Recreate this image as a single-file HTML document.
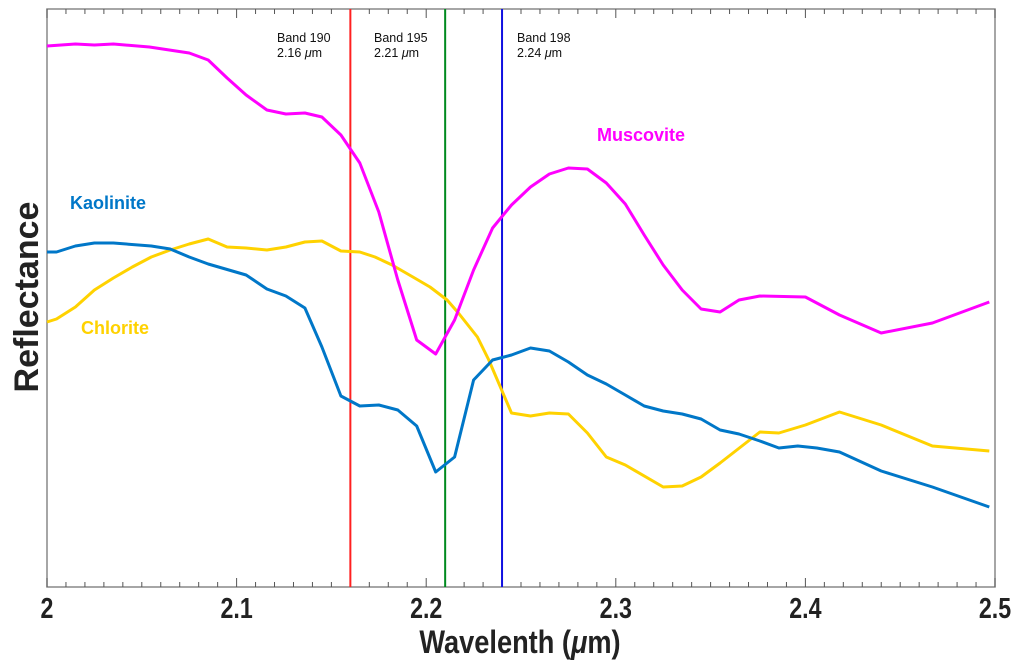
<!DOCTYPE html>
<html><head><meta charset="utf-8"><style>
html,body{margin:0;padding:0;background:#fff;}
svg{display:block;font-family:"Liberation Sans",sans-serif;}
</style></head><body>
<svg id="chart" width="1024" height="672" viewBox="0 0 1024 672" xmlns="http://www.w3.org/2000/svg"></svg>
<script>
const xTicks = [2.0, 2.1, 2.2, 2.3, 2.4, 2.5];
const xTickLabels = ["2", "2.1", "2.2", "2.3", "2.4", "2.5"];
const muscoviteWl = [2.000,2.015,2.025,2.035,2.054,2.075,2.085,2.095,2.105,2.116,2.126,2.136,2.145,2.155,2.165,2.175,2.185,2.195,2.205,2.215,2.225,2.235,2.245,2.255,2.265,2.275,2.285,2.295,2.305,2.315,2.325,2.335,2.345,2.355,2.365,2.376,2.400,2.418,2.440,2.467,2.497];
const muscoviteVal = [.541,.543,.542,.543,.540,.534,.527,.509,.492,.477,.473,.474,.470,.452,.424,.375,.307,.247,.233,.267,.317,.359,.382,.400,.413,.419,.418,.404,.383,.352,.322,.297,.278,.275,.287,.291,.290,.272,.254,.264,.285];
const kaoliniteWl = [2.000,2.005,2.015,2.025,2.035,2.055,2.065,2.075,2.085,2.105,2.116,2.126,2.136,2.145,2.155,2.165,2.175,2.185,2.195,2.205,2.215,2.225,2.235,2.245,2.255,2.265,2.275,2.285,2.295,2.305,2.315,2.325,2.335,2.345,2.355,2.365,2.376,2.386,2.396,2.406,2.418,2.440,2.467,2.497];
const kaoliniteVal = [.335,.335,.341,.344,.344,.341,.338,.330,.323,.312,.298,.291,.279,.240,.191,.181,.182,.177,.161,.115,.130,.207,.227,.232,.239,.236,.225,.212,.203,.192,.181,.176,.173,.168,.157,.153,.146,.139,.141,.139,.135,.116,.100,.080];
const chloriteWl = [2.000,2.005,2.015,2.025,2.035,2.045,2.055,2.065,2.075,2.085,2.095,2.105,2.116,2.126,2.136,2.145,2.155,2.165,2.173,2.182,2.193,2.202,2.211,2.217,2.227,2.233,2.245,2.255,2.265,2.275,2.285,2.295,2.305,2.325,2.335,2.345,2.355,2.376,2.386,2.400,2.418,2.440,2.467,2.497];
const chloriteVal = [.265,.268,.280,.297,.309,.320,.330,.337,.343,.348,.340,.339,.337,.340,.345,.346,.336,.335,.330,.322,.310,.300,.287,.274,.250,.227,.174,.171,.174,.173,.154,.130,.122,.100,.101,.110,.124,.155,.154,.162,.175,.162,.141,.136];
const bandWl = [2.16, 2.21, 2.24];
const bandNames = ["Band 190", "Band 195", "Band 198"];
const bandLabels = ["2.16", "2.21", "2.24"];
const bandColors = ["#ff2020", "#008a1e", "#1010e0"];

const L=47,R=995,T=9,B=587;
const YMAX=0.578;
const X = w => L + (w-2.0)/(0.5)*(R-L);
const Y = v => B - v/YMAX*(B-T);
const NS="http://www.w3.org/2000/svg";
const svg=document.getElementById('chart');
function mk(tag, attrs, parent){const e=document.createElementNS(NS,tag);for(const k in attrs)e.setAttribute(k,attrs[k]);(parent||svg).appendChild(e);return e;}

const frame=mk('rect',{x:L,y:T,width:R-L,height:B-T,fill:'none',stroke:'#888','stroke-width':1.5});



for(let i=0;i<=50;i++){
  const w=2+i*0.01, x=X(w), len=(i%10===0)?9:5;
  const t1=mk('line',{x1:x,x2:x,y1:B,y2:B-len,stroke:'#555','stroke-width':1});
  
  
  const t2=mk('line',{x1:x,x2:x,y1:T,y2:T+len,stroke:'#555','stroke-width':1});
  
  
}
xTicks.forEach((w,i)=>{
  const t=mk('text',{x:X(w),y:618,'text-anchor':'middle','font-size':29,'font-weight':'bold',fill:'#222',transform:`translate(${X(w)},0) scale(0.8,1) translate(${-X(w)},0)`});
  t.textContent=xTickLabels[i];
  
  
});

bandWl.forEach((w,i)=>{
  const l=mk('line',{x1:X(w),x2:X(w),y1:T,y2:B,stroke:bandColors[i],'stroke-width':2});
  
  
});
const bandTextX=[277,374,517];
bandWl.forEach((w,i)=>{
  const t=mk('text',{x:bandTextX[i],y:42,'font-size':12.5,fill:'#111'});
  t.textContent=bandNames[i];
  
  
  const t2=mk('text',{x:bandTextX[i],y:57,'font-size':12.5,fill:'#111'});
  t2.innerHTML=bandLabels[i]+' <tspan font-style="italic">μ</tspan>m';
  
  
});

function series(wl,val,color,name){
  const d=wl.map((w,i)=>(i?'L':'M')+X(w).toFixed(1)+','+Y(val[i]).toFixed(1)).join('');
  const p=mk('path',{d:d,fill:'none',stroke:color,'stroke-width':3,'stroke-linejoin':'round'});
  
  
}
series(chloriteWl,chloriteVal,'#ffd200','chlorite-line');
series(kaoliniteWl,kaoliniteVal,'#0077c8','kaolinite-line');
series(muscoviteWl,muscoviteVal,'#ff00ff','muscovite-line');

[['Kaolinite',70,209,'#0077c8','kaolinite-label'],['Chlorite',81,334,'#ffd200','chlorite-label'],['Muscovite',597,141,'#ff00ff','muscovite-label']].forEach(a=>{
  const t=mk('text',{x:a[1],y:a[2],'font-size':18,'font-weight':'bold',fill:a[3]});
  t.textContent=a[0];
  
  
});

const xt=mk('text',{x:520,y:653,'text-anchor':'middle','font-size':32,'font-weight':'bold',fill:'#222',transform:'translate(520,0) scale(0.85,1) translate(-520,0)'});
xt.innerHTML='Wavelenth (<tspan font-style="italic">μ</tspan>m)';


const yt=mk('text',{x:0,y:0,'text-anchor':'middle','font-size':34,'font-weight':'bold',fill:'#222',transform:'translate(38,297) rotate(-90)'});
yt.textContent='Reflectance';


</script>
</body></html>
